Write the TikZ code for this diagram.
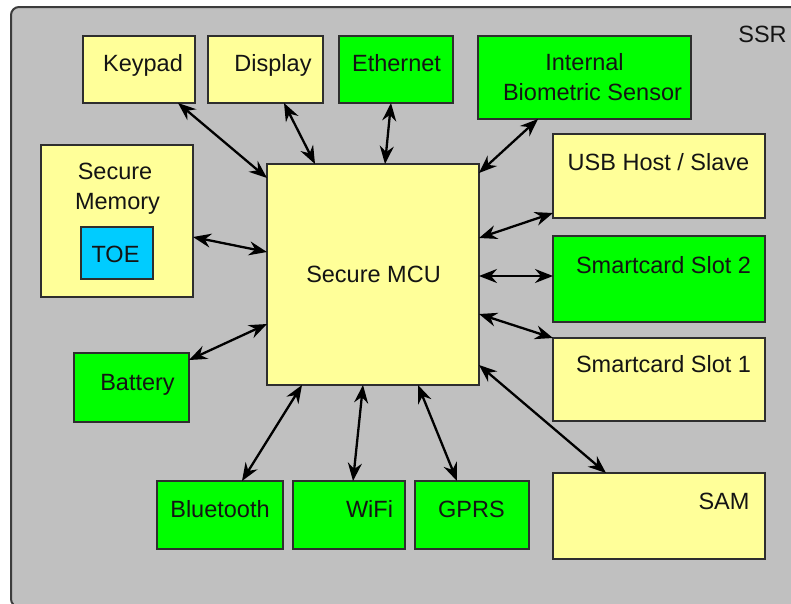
\documentclass[tikz,border=0pt]{standalone}
\usepackage{fontspec}
\usetikzlibrary{arrows.meta,calc}
\newfontfamily\dgfontfam{Liberation Sans}
\newcommand\dgfont{\dgfontfam\fontsize{23.5}{28}\selectfont}
\definecolor{framefill}{HTML}{C0C0C0}
\definecolor{frameline}{HTML}{3C3C3C}
\definecolor{ybox}{HTML}{FFFF99}
\definecolor{gbox}{HTML}{00FF00}
\definecolor{cbox}{HTML}{00CCFF}
\definecolor{boxline}{HTML}{2E2E2E}
\definecolor{txt}{HTML}{141414}
\tikzset{
  bx/.style={draw=boxline, line width=1.6pt, inner sep=0pt, outer sep=0pt},
  yb/.style={bx, fill=ybox},
  gb/.style={bx, fill=gbox},
  cb/.style={bx, fill=cbox},
  lbl/.style={anchor=base, inner sep=0pt, font=\dgfont, text=txt},
  tipx/.tip={Stealth[length=18pt,width=14pt,inset=6pt]},
  link/.style={line width=2.3pt, black, tipx-tipx},
}
\begin{document}
\begin{tikzpicture}[x=1pt,y=-1pt]
\useasboundingbox (0,0) rectangle (791,603);
\clip (0,0) rectangle (791,603);
\fill[white] (0,0) rectangle (791,603);
\draw[fill=framefill, draw=frameline, line width=2pt, rounded corners=8pt] (11,7) rectangle (806,607);
\node[lbl] (ssr) at (762.5,42) {SSR};

% boxes
\node[yb, minimum width=112pt, minimum height=67pt] (kp) at (139,69.5) {};
\node[yb, minimum width=115pt, minimum height=67pt] (disp) at (265.5,69.5) {};
\node[gb, minimum width=114pt, minimum height=67pt] (eth) at (396,69.5) {};
\node[gb, minimum width=213pt, minimum height=83pt] (bio) at (584.5,77.5) {};
\node[yb, minimum width=212pt, minimum height=84pt] (usb) at (659,176) {};
\node[yb, minimum width=212pt, minimum height=221pt] (mcu) at (373,274.5) {};
\node[gb, minimum width=212pt, minimum height=86pt] (sc2) at (659,279) {};
\node[yb, minimum width=212pt, minimum height=83pt] (sc1) at (659,379.5) {};
\node[yb, minimum width=212pt, minimum height=86pt] (sam) at (659,516) {};
\node[yb, minimum width=152pt, minimum height=152pt] (mem) at (117,221) {};
\node[cb, minimum width=72pt, minimum height=52pt] (toe) at (117,253) {};
\node[gb, minimum width=115pt, minimum height=69pt] (bat) at (131.5,387.5) {};
\node[gb, minimum width=126pt, minimum height=68pt] (bt) at (220,515) {};
\node[gb, minimum width=112pt, minimum height=68pt] (wifi) at (349,515) {};
\node[gb, minimum width=114pt, minimum height=68pt] (gprs) at (472,515) {};

% labels
\node[lbl] (kpT) at (143,71) {Keypad};
\node[lbl] (dispT) at (273,71) {Display};
\node[lbl] (ethT) at (396.5,71) {Ethernet};
\node[lbl] (bioT1) at (584.5,70) {Internal};
\node[lbl] (bioT2) at (592.5,100) {Biometric Sensor};
\node[lbl] (usbT) at (658.5,170) {USB Host / Slave};
\node[lbl] (mcuT) at (373.5,282) {Secure MCU};
\node[lbl] (sc2T) at (663.5,273) {Smartcard Slot 2};
\node[lbl] (sc1T) at (663.5,372) {Smartcard Slot 1};
\node[lbl] (samT) at (724,509) {SAM};
\node[lbl] (memT1) at (115,179) {Secure};
\node[lbl] (memT2) at (117.5,209) {Memory};
\node[lbl] (toeT) at (115.5,262) {TOE};
\node[lbl] (batT) at (137.5,390) {Battery};
\node[lbl] (btT) at (220,517) {Bluetooth};
\node[lbl] (wifiT) at (369.5,517) {WiFi};
\node[lbl] (gprsT) at (471.5,517) {GPRS};

% connectors
\draw[link] ($(kp.south west)+(95,0)$) -- ($(mcu.north west)+(0,14)$);
\draw[link] ($(disp.south west)+(76,0)$) -- ($(mcu.north west)+(48,0)$);
\draw[link] ($(eth.south west)+(52,0)$) -- ($(mcu.north west)+(118,0)$);
\draw[link] ($(bio.south west)+(60,0)$) -- ($(mcu.north east)+(0,9)$);
\draw[link] ($(usb.south west)+(0,-5)$) -- ($(mcu.north east)+(0,74)$);
\draw[link] ($(sc2.north west)+(0,40)$) -- ($(mcu.north east)+(0,112)$);
\draw[link] (sc1.north west) -- ($(mcu.north east)+(0,150)$);
\draw[link] ($(mcu.north east)+(0,201)$) -- ($(sam.north west)+(53,0)$);
\draw[link] ($(mcu.south west)+(151,0)$) -- ($(gprs.north west)+(42,0)$);
\draw[link] ($(mcu.south west)+(96,0)$) -- ($(wifi.north west)+(60,0)$);
\draw[link] ($(mcu.south west)+(35,0)$) -- ($(bt.north west)+(85,0)$);
\draw[link] ($(mcu.south west)+(0,-61)$) -- ($(bat.north east)+(0,7)$);
\draw[link] ($(mem.north east)+(0,92)$) -- ($(mcu.north west)+(0,88)$);
\end{tikzpicture}
\end{document}
